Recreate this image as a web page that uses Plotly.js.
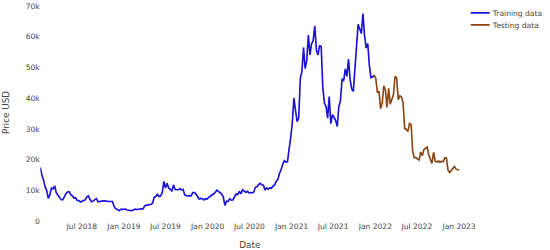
<!DOCTYPE html>
<html>
<head>
<meta charset="utf-8">
<script src="https://cdn.plot.ly/plotly-3.0.1.min.js"></script>
<style>
	html, body { margin: 0; padding: 0; overflow: hidden; background: #fff; }
	#wrap { width: 550px; height: 250px; overflow: hidden; }
	#chart { width: 873px; height: 397px; transform: scale(0.63); transform-origin: 0 0; }
</style>
</head>
<body>
<div id="wrap"><div id="chart"></div></div>
<script>
// weekly closes in thousand USD, one array per year (weeks start Monday 2018-01-01)
const train2018 = [17.5, 15.0, 13.5, 11.2, 10.0, 7.4, 8.6, 10.8, 10.5, 11.5, 9.2, 8.5, 7.8, 7.0, 6.9, 8.0, 8.9, 9.5, 9.6, 8.6, 8.2, 7.5, 7.6, 6.7, 6.7, 6.2, 6.5, 6.7, 6.9, 7.9, 8.2, 7.0, 6.3, 6.5, 7.0, 7.3, 6.3, 6.4, 6.6, 6.6, 6.6, 6.5, 6.5, 6.4, 6.4, 6.4, 4.8, 4.0, 3.9, 3.4, 3.8, 3.9, 3.8];
const train2019 = [4.0, 3.6, 3.6, 3.45, 3.4, 3.6, 3.9, 3.8, 3.8, 3.9, 4.0, 4.0, 4.9, 5.2, 5.2, 5.4, 5.4, 5.9, 7.8, 8.0, 8.7, 8.0, 8.2, 9.3, 12.9, 10.8, 12.3, 10.8, 10.3, 9.8, 11.8, 10.3, 10.2, 10.2, 10.6, 10.2, 10.3, 8.5, 8.3, 8.2, 8.3, 8.2, 9.3, 9.3, 8.8, 8.1, 7.2, 7.4, 7.3, 6.9, 7.3, 7.2];
const train2020 = [7.8, 8.1, 8.6, 8.9, 9.3, 10.1, 9.7, 9.3, 8.8, 7.9, 5.1, 6.5, 6.4, 7.3, 6.8, 6.9, 7.8, 8.9, 8.6, 9.7, 8.9, 10.2, 9.8, 9.4, 9.7, 9.2, 9.3, 9.2, 9.4, 11.0, 11.2, 11.9, 12.3, 11.8, 11.7, 10.1, 10.8, 10.4, 10.8, 10.7, 11.4, 11.8, 13.0, 13.6, 15.5, 16.7, 18.4, 19.7, 19.2, 19.3, 23.5, 27.1];
const train2021 = [32.0, 40.0, 36.0, 32.4, 33.5, 46.5, 48.7, 56.5, 49.6, 52.3, 60.5, 54.1, 57.7, 58.7, 63.5, 55.7, 54.0, 57.2, 56.7, 43.5, 38.4, 37.3, 33.5, 40.5, 31.7, 34.6, 33.8, 32.7, 30.8, 37.3, 39.2, 46.3, 45.6, 49.5, 47.1, 52.7, 46.1, 43.0, 42.2, 49.1, 57.5, 64.0, 62.5, 61.0, 67.5, 60.4, 56.3, 57.8, 50.6, 46.7, 46.9, 47.5];
// testing set, weekly from 2021-12-27
const test2022 = [47.5, 46.4, 41.8, 42.2, 36.6, 38.5, 44.0, 42.5, 37.0, 43.2, 38.0, 39.7, 41.2, 47.1, 46.6, 39.5, 40.8, 40.4, 38.5, 30.1, 29.9, 29.1, 31.8, 31.4, 22.5, 20.6, 20.7, 20.2, 19.9, 22.5, 21.3, 23.3, 23.8, 24.1, 21.5, 20.3, 18.8, 22.4, 19.5, 19.2, 19.6, 19.1, 19.5, 19.3, 20.6, 20.6, 16.6, 15.8, 16.4, 17.1, 17.8, 16.9, 16.7, 16.7];

const trainStart = "2018-01-01";
const testStart = "2021-12-27";

const weekly = (start, n) => {
	const t0 = new Date(start + "T00:00:00Z").getTime();
	return Array.from({ length: n }, (_, i) => new Date(t0 + i * 7 * 864e5).toISOString().slice(0, 10));
};

const trainY = [...train2018, ...train2019, ...train2020, ...train2021].map(v => v * 1000);
const testY = test2022.map(v => v * 1000);

const training = {
	x: weekly(trainStart, trainY.length),
	y: trainY,
	type: "scatter",
	mode: "lines",
	name: "Training data",
	line: { color: "#1a10d8", width: 2.6 }
};

const testing = {
	x: weekly(testStart, testY.length),
	y: testY,
	type: "scatter",
	mode: "lines",
	name: "Testing data",
	line: { color: "#8b4513", width: 2.6 }
};

const layout = {
	width: 873,
	height: 397,
	margin: { l: 64, r: 132, t: 6, b: 46 },
	paper_bgcolor: "#fff",
	plot_bgcolor: "#fff",
	font: { family: "DejaVu Sans", size: 12, color: "#444" },
	xaxis: {
		title: { text: "Date", font: { size: 14 } },
		type: "date",
		range: ["2018-01-01 08:00", "2023-01-02"],
		dtick: "M6",
		tick0: "2018-01-01",
		showgrid: false,
		zeroline: false,
		showline: false
	},
	yaxis: {
		title: { text: "Price USD", font: { size: 14 }, standoff: 22 },
		range: [0, 70700],
		dtick: 10000,
		showgrid: false,
		zeroline: false,
		showline: false
	},
	legend: { font: { size: 12 } },
	showlegend: true
};

Plotly.newPlot("chart", [training, testing], layout, { displayModeBar: false });
</script>
</body>
</html>
